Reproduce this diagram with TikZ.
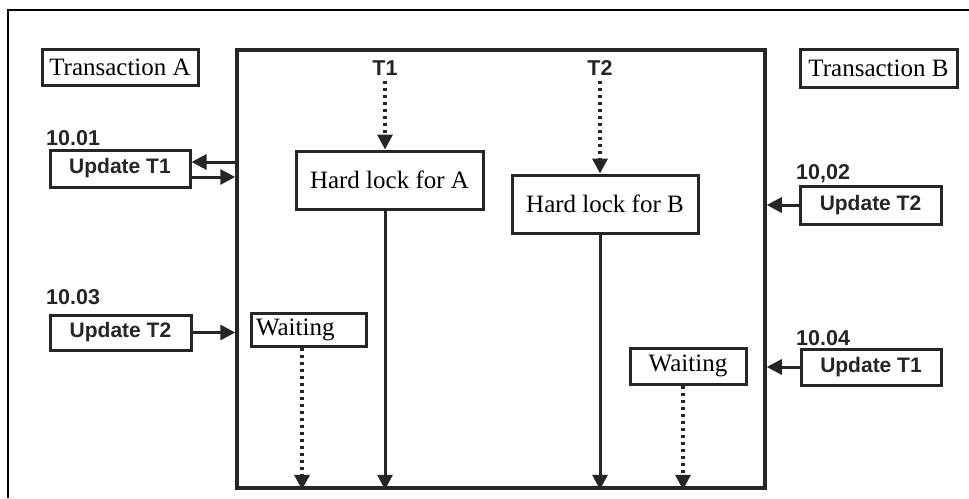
\documentclass[tikz,border=0pt]{standalone}
\usepackage{fontspec}
\setmainfont{Liberation Serif}
\setsansfont{Liberation Sans}
\usetikzlibrary{arrows.meta,calc}
\definecolor{ink}{HTML}{262626}
\tikzset{
  serifbox/.style={draw=ink, line width=3pt, inner sep=0pt, font=\fontsize{25}{27}\selectfont, text=black},
  updbox/.style={draw=ink, line width=3pt, inner sep=0pt, font=\sffamily\bfseries\fontsize{21}{23}\selectfont, text=ink},
  lbl/.style={inner sep=0pt, font=\sffamily\bfseries\fontsize{21.5}{23}\selectfont, text=ink},
  arr/.style={draw=ink, line width=3pt, -{Triangle[length=15pt,width=15pt]}},
  dotarr/.style={draw=ink, line width=3.5pt, dash pattern=on 3pt off 4pt, -{Triangle[length=15pt,width=15pt]}},
}
\begin{document}
\begin{tikzpicture}[x=1pt,y=-1pt]
\useasboundingbox (0,0) rectangle (969,498);
\fill[white] (0,0) rectangle (969,498);
\draw[black, line width=2.5pt] (8,498) -- (8,10) -- (969,10);

% main box
\node[draw=ink, line width=3.5pt, minimum width=528pt, minimum height=438pt, inner sep=0pt] (main) at (501,269) {};

% transaction labels
\node[serifbox, minimum width=156pt, minimum height=36pt] (ta) at (120,67) {Transaction A};
\node[serifbox, minimum width=157pt, minimum height=38pt] (tb) at (878.5,68) {Transaction B};

% update boxes
\node[updbox, minimum width=140pt, minimum height=37pt] (ut1l) at (120,168.5) {Update T1};
\node[updbox, minimum width=141pt, minimum height=35pt] (ut2l) at (120.5,332.5) {Update T2};
\node[updbox, minimum width=141pt, minimum height=38pt] (ut2r) at (870.5,205) {Update T2};
\node[updbox, minimum width=140pt, minimum height=36pt] (ut1r) at (871,367) {Update T1};

% time labels
\node[lbl, anchor=south west] (l1) at (46,146) {10.01};
\node[lbl, anchor=south west] (l3) at (46,305) {10.03};
\node[lbl, anchor=south west] (l2) at (796,183) {10,02};
\node[lbl, anchor=south west] (l4) at (796,346) {10.04};

% inner nodes
\node[serifbox, minimum width=187pt, minimum height=58pt] (hla) at (389.5,180) {Hard lock for A};
\node[serifbox, minimum width=186pt, minimum height=58pt] (hlb) at (605,204) {Hard lock for B};
\node[serifbox, minimum width=115pt, minimum height=33pt, text width=105pt, align=left] (wl) at (308.5,329.5) {Waiting};
\node[serifbox, minimum width=116pt, minimum height=36pt] (wr) at (688,366) {Waiting};

\node[lbl] (t1) at (385,68) {T1};
\node[lbl] (t2) at (600,68) {T2};

% connectors
\draw[dotarr] ([yshift=-5pt]t1.south) -- (hla.north -| t1.south);
\draw[dotarr] ([yshift=-5pt]t2.south) -- (hlb.north -| t2.south);
\draw[arr] (hla.south -| t1.south) -- (main.south -| t1.south);
\draw[arr] (hlb.south -| t2.south) -- (main.south -| t2.south);
\draw[dotarr] (wl.south -| 302,0) -- (main.south -| 302,0);
\draw[dotarr] (wr.south -| 683,0) -- (main.south -| 683,0);

\draw[arr] (main.west |- 0,162) -- (ut1l.east |- 0,162);
\draw[arr] (ut1l.east |- 0,177) -- (main.west |- 0,177);
\draw[arr] (ut2l.east) -- (main.west |- ut2l.east);
\draw[arr] (ut2r.west) -- (main.east |- ut2r.west);
\draw[arr] (ut1r.west) -- (main.east |- ut1r.west);
\end{tikzpicture}
\end{document}
